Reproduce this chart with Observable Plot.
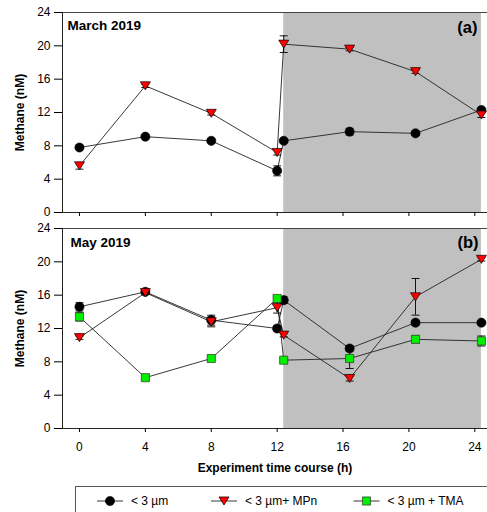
<!DOCTYPE html>
<html>
<head>
<meta charset="utf-8">
<script src="https://cdn.jsdelivr.net/npm/d3@7"></script>
<script src="https://cdn.jsdelivr.net/npm/@observablehq/plot@0.6"></script>
<style>
  html, body { margin: 0; padding: 0; background: #fff; }
  #wrap { position: relative; width: 487px; height: 512px; overflow: hidden; font-family: "Liberation Sans", Arial, sans-serif; }
  #wrap > * { position: absolute; left: 0; }
</style>
</head>
<body>
<div id="wrap"></div>
<script>
// ---- data ----
const times = [0, 4, 8, 12, 12.4, 16.4, 20.4, 24.4];
const xTicks = [0, 4, 8, 12, 16, 20, 24];
const yTicks = [0, 4, 8, 12, 16, 20, 24];
const shade = [[12.4, 24.4]];

const marchCircle    = [7.8, 9.1, 8.6, 5.0, 8.6, 9.7, 9.5, 12.3];
const marchCircleErr = [0.2, 0.2, 0.2, 0.6, 0.2, 0.4, 0.2, 0.2];
const marchTri       = [5.6, 15.2, 11.9, 7.2, 20.2, 19.6, 16.9, 11.7];
const marchTriErr    = [0.4, 0.2, 0.2, 0.3, 1.0, 0.2, 0.2, 0.3];

const mayCircle    = [14.6, 16.4, 13.0, 12.0, 15.4, 9.6, 12.7, 12.7];
const mayCircleErr = [0.5, 0.2, 0.6, 0.3, 0.4, 0.3, 0.3, 0.2];
const mayTri       = [10.9, 16.3, 12.8, 14.5, 11.2, 6.0, 15.8, 20.3];
const mayTriErr    = [0.2, 0.2, 0.6, 0.65, 0.2, 0.3, 2.2, 0.2];
const maySq        = [13.4, 6.1, 8.4, 15.6, 8.2, 8.4, 10.7, 10.5];
const maySqErr     = [0.5, 0.2, 0.2, 0.2, 0.2, 1.2, 0.4, 0.6];

const legendLabels = ["< 3 µm", "< 3 µm+ MPn", "< 3 µm + TMA"];

// ---- helpers ----
const rows = (vals, errs) => times.map((t, i) => ({t, v: vals[i], e: errs[i]}));

const triDown = {
  draw(ctx, size) {
    const r = Math.sqrt(size / Math.PI);
    const hw = r * 1.12, h = r * 0.9;
    ctx.moveTo(-hw, -h);
    ctx.lineTo(hw, -h);
    ctx.lineTo(0, h);
    ctx.closePath();
  }
};
const cap = {
  draw(ctx) { ctx.moveTo(-4, 0); ctx.lineTo(4, 0); }
};

const styles = {
  circle: {symbol: "circle", r: 4.6, fill: "black", stroke: "black", strokeWidth: 0.6},
  tri: {symbol: triDown, r: 4.5, fill: "#ff0000", stroke: "black", strokeWidth: 0.7},
  sq: {symbol: "square", r: 4.6, fill: "#00f000", stroke: "#333", strokeWidth: 0.7}
};

function seriesMarks(data, st) {
  return [
    Plot.ruleX(data, {x: "t", y1: d => d.v - d.e, y2: d => d.v + d.e, stroke: "black", strokeWidth: 0.9}),
    Plot.dot(data, {x: "t", y: d => d.v + d.e, symbol: cap, stroke: "black", strokeWidth: 0.9, fill: "none"}),
    Plot.dot(data, {x: "t", y: d => d.v - d.e, symbol: cap, stroke: "black", strokeWidth: 0.9, fill: "none"}),
    Plot.dot(data, {x: "t", y: "v", ...st})
  ];
}

function panel({series, height, marginBottom, title, titleDx, titleDy, tag, tagDx, tagDy, xLabels}) {
  const lines = series.map(([data]) =>
    Plot.line(data, {x: "t", y: "v", stroke: "#222", strokeWidth: 0.9}));
  const pts = series.flatMap(([data, st]) => seriesMarks(data, st));
  return Plot.plot({
    width: 487,
    height,
    marginLeft: 62,
    marginRight: 0,
    marginTop: 12,
    marginBottom,
    style: {fontFamily: "'Liberation Sans', Arial, sans-serif", fontSize: "12px", background: "transparent", overflow: "visible"},
    x: {domain: [-1.03, 24.77], label: null},
    y: {domain: [0, 24], label: null},
    marks: [
      Plot.rect(shade, {x1: d => d[0], x2: d => d[1], y1: 0, y2: 24, fill: "#c0c0c0"}),
      Plot.frame({anchor: "top", stroke: "#444"}),
      Plot.frame({anchor: "left", stroke: "#222"}),
      Plot.frame({anchor: "bottom", stroke: "#222"}),
      Plot.axisY(yTicks, {tickSize: 8, tickPadding: 4, fontSize: 12, label: null}),
      Plot.axisX(xTicks, {tickSize: 4, tickPadding: 9.5, fontSize: 12, label: null,
        tickFormat: xLabels ? d => String(d) : () => ""}),
      ...lines,
      ...pts,
      Plot.text([title], {frameAnchor: "top-left", dx: titleDx, dy: titleDy, textAnchor: "start",
        lineAnchor: "middle", fontWeight: "bold", fontSize: 13.5, fill: "black"}),
      Plot.text([tag], {frameAnchor: "top-right", dx: tagDx, dy: tagDy, textAnchor: "end",
        lineAnchor: "middle", fontWeight: "bold", fontSize: 16.5, fill: "black"}),
      Plot.text(["Methane (nM)"], {frameAnchor: "left", dx: -42, rotate: -90, textAnchor: "middle",
        lineAnchor: "middle", fontWeight: "bold", fontSize: 12, fill: "black"}),
      ...(xLabels ? [Plot.text(["Experiment time course (h)"], {frameAnchor: "bottom", dy: 40,
        textAnchor: "middle", lineAnchor: "middle", fontWeight: "bold", fontSize: 12, fill: "black"})] : [])
    ]
  });
}

const wrap = document.getElementById("wrap");

const topPanel = panel({
  series: [[rows(marchCircle, marchCircleErr), styles.circle], [rows(marchTri, marchTriErr), styles.tri]],
  height: 216, marginBottom: 4,
  title: "March 2019", titleDx: 5, titleDy: 13,
  tag: "(a)", tagDx: -10, tagDy: 15, xLabels: false
});
topPanel.style.top = "0px";
wrap.appendChild(topPanel);

const bottomPanel = panel({
  series: [[rows(mayCircle, mayCircleErr), styles.circle], [rows(mayTri, mayTriErr), styles.tri], [rows(maySq, maySqErr), styles.sq]],
  height: 264, marginBottom: 52,
  title: "May 2019", titleDx: 8, titleDy: 14,
  tag: "(b)", tagDx: -9, tagDy: 14.5, xLabels: true
});
bottomPanel.style.top = "216px";
wrap.appendChild(bottomPanel);

// ---- legend ----
const leg = d3.create("svg").attr("width", 487).attr("height", 32).style("top", "480px").style("overflow", "visible");
leg.append("rect").attr("x", 75.5).attr("y", 6.5).attr("width", 440).attr("height", 60)
  .attr("fill", "none").attr("stroke", "#555").attr("stroke-width", 1);
const legItems = [
  {cx: 110, st: styles.circle},
  {cx: 224, st: styles.tri},
  {cx: 366.5, st: styles.sq}
];
const ly = 21;
legItems.forEach((it, i) => {
  const g = leg.append("g");
  g.append("line").attr("x1", it.cx - 13).attr("x2", it.cx + 13).attr("y1", ly).attr("y2", ly)
    .attr("stroke", "#222").attr("stroke-width", 0.9);
  const sym = it.st.symbol === "circle" ? d3.symbolCircle : it.st.symbol === "square" ? d3.symbolSquare : it.st.symbol;
  g.append("path").attr("transform", `translate(${it.cx},${ly})`)
    .attr("d", d3.symbol(sym, it.st.r * it.st.r * Math.PI)())
    .attr("fill", it.st.fill).attr("stroke", it.st.stroke).attr("stroke-width", it.st.strokeWidth);
  g.append("text").attr("x", it.cx + 21).attr("y", ly).attr("dy", "0.35em")
    .attr("font-family", "'Liberation Sans', Arial, sans-serif").attr("font-size", 12)
    .text(legendLabels[i]);
});
wrap.appendChild(leg.node());
</script>
</body>
</html>
